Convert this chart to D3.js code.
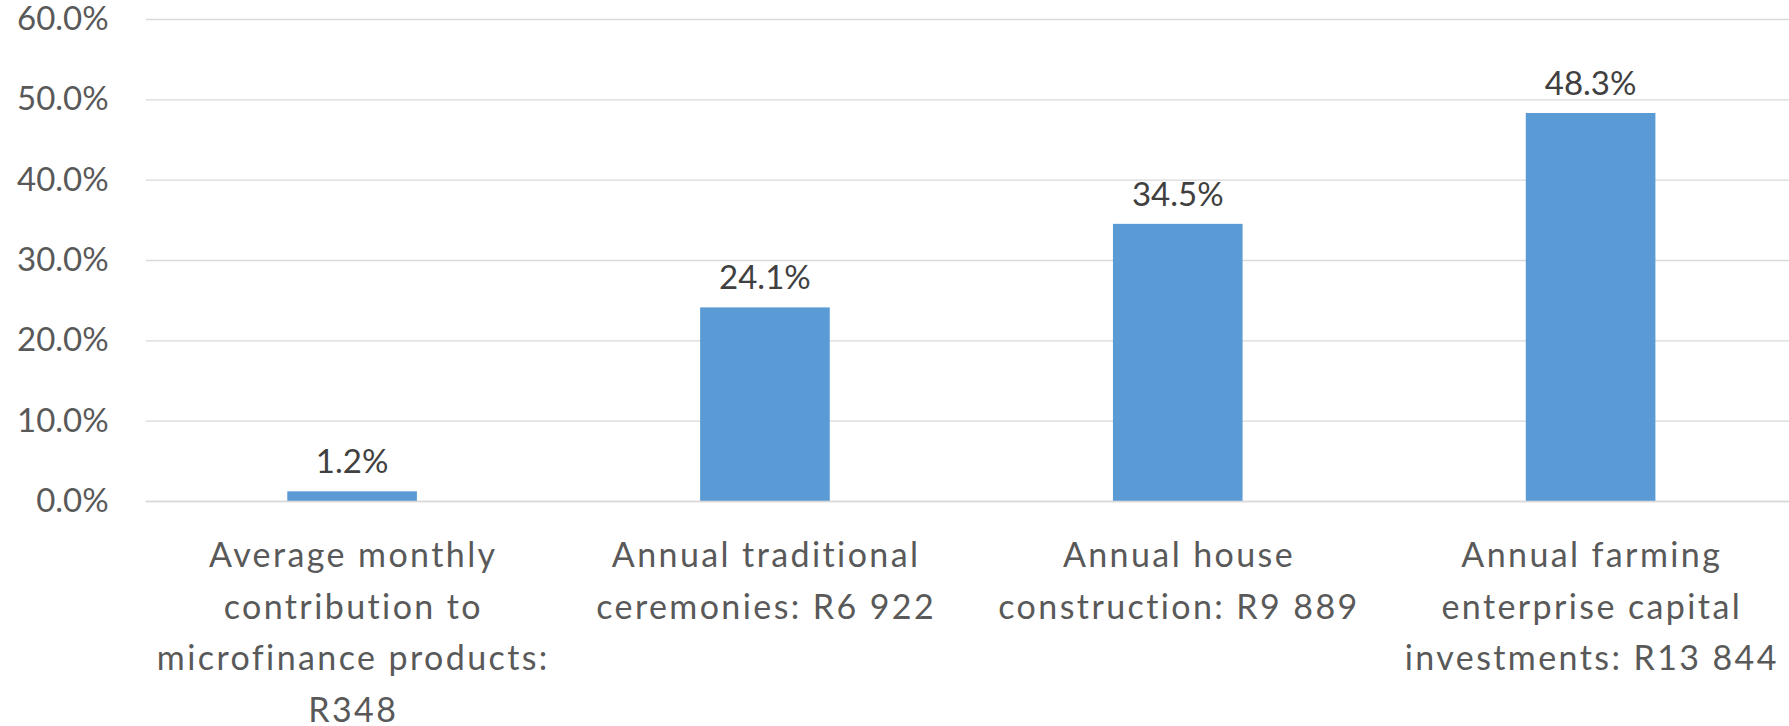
<!DOCTYPE html>
<html>
<head>
<meta charset="utf-8">
<script src="https://cdn.jsdelivr.net/npm/d3@7"></script>
<style>
  html, body { margin: 0; padding: 0; background: #ffffff; overflow: hidden; }
  svg { display: block; font-family: Lato, "Open Sans", sans-serif; }
</style>
</head>
<body>
<svg id="chart" width="1789" height="726"></svg>
<script>
// ---- data ----
const categories = [
  "Average monthly contribution to microfinance products: R348",
  "Annual traditional ceremonies: R6 922",
  "Annual house construction: R9 889",
  "Annual farming enterprise capital investments: R13 844"
];
const categoryLines = [
  ["Average monthly", "contribution to", "microfinance products:", "R348"],
  ["Annual traditional", "ceremonies: R6 922"],
  ["Annual house", "construction: R9 889"],
  ["Annual farming", "enterprise capital", "investments: R13 844"]
];
const values = [1.2, 24.1, 34.5, 48.3];
const yTicks = [0, 10, 20, 30, 40, 50, 60];

// ---- layout ----
const svg = d3.select("#chart");
const plotLeft = 145.7, plotRight = 1797, plotTop = 19, plotBottom = 501;
const fontSize = 33;
const catFontSize = 34;

const x = d3.scaleBand()
  .domain(categories)
  .range([plotLeft, plotRight])
  .paddingInner(0.686)
  .paddingOuter(0.343);

const y = d3.scaleLinear().domain([0, 60]).range([plotBottom, plotTop]);

// gridlines + y tick labels
const yAxis = d3.axisLeft(y)
  .tickValues(yTicks)
  .tickSizeInner(-(plotRight - plotLeft))
  .tickSizeOuter(0)
  .tickPadding(37)
  .tickFormat(d => d3.format(".1f")(d) + "%");

const gy = svg.append("g")
  .attr("transform", `translate(${plotLeft},0)`)
  .call(yAxis);
gy.select(".domain").remove();
gy.selectAll(".tick line").attr("stroke", "#d9d9d9").attr("stroke-width", 1.3);
gy.selectAll(".tick text")
  .attr("fill", "#595959")
  .style("font-size", fontSize + "px")
  .style("font-family", "Lato, 'Open Sans', sans-serif");

// bars
svg.append("g").selectAll("rect")
  .data(values)
  .join("rect")
  .attr("x", (d, i) => x(categories[i]))
  .attr("width", x.bandwidth())
  .attr("y", d => y(d))
  .attr("height", d => y(0) - y(d))
  .attr("fill", "#5b9bd5");

// value labels
svg.append("g").selectAll("text")
  .data(values)
  .join("text")
  .attr("x", (d, i) => x(categories[i]) + x.bandwidth() / 2)
  .attr("y", d => y(d) - 18)
  .attr("text-anchor", "middle")
  .attr("fill", "#404040")
  .style("font-size", fontSize + "px")
  .text(d => d3.format(".1f")(d) + "%");

// x axis with wrapped category labels
const xAxis = d3.axisBottom(x).tickSize(0).tickPadding(0).tickFormat("");
const gx = svg.append("g")
  .attr("transform", `translate(0,${plotBottom})`)
  .call(xAxis);
gx.select(".domain").attr("stroke", "#d9d9d9").attr("stroke-width", 1.3)
  .attr("d", `M${plotLeft},0.5H${plotRight}`);
gx.selectAll(".tick text").each(function(d, i) {
  const t = d3.select(this)
    .attr("y", 0)
    .attr("dy", null)
    .attr("fill", "#595959")
    .style("font-size", catFontSize + "px")
    .style("letter-spacing", "2.4px")
    .style("font-family", "Lato, 'Open Sans', sans-serif")
    .text(null);
  categoryLines[i].forEach((line, k) => {
    t.append("tspan")
      .attr("x", 1.2)
      .attr("y", 66 + k * 51.5)
      .text(line);
  });
});
</script>
</body>
</html>
